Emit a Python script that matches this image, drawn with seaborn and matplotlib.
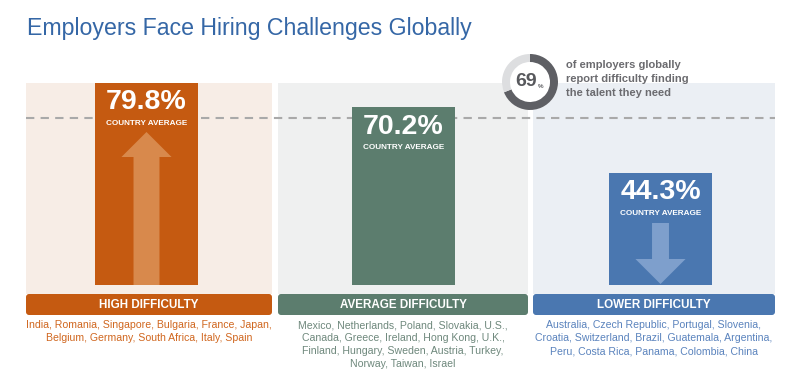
import numpy as np
import matplotlib
matplotlib.use("Agg")
import matplotlib.pyplot as plt
import matplotlib.patches as mpatches
import seaborn as sns
import pandas as pd

# data
groups = ["HIGH DIFFICULTY", "AVERAGE DIFFICULTY", "LOWER DIFFICULTY"]
country_avg = [79.8, 70.2, 44.3]
global_share = 69
countries = [
    ["India, Romania, Singapore, Bulgaria, France, Japan,",
     "Belgium, Germany, South Africa, Italy, Spain"],
    ["Mexico, Netherlands, Poland, Slovakia, U.S.,",
     "Canada, Greece, Ireland, Hong Kong, U.K.,",
     "Finland, Hungary, Sweden, Austria, Turkey,",
     "Norway, Taiwan, Israel"],
    ["Australia, Czech Republic, Portugal, Slovenia,",
     "Croatia, Switzerland, Brazil, Guatemala, Argentina,",
     "Peru, Costa Rica, Panama, Colombia, China"],
]

bar_colors = ["#C55A11", "#5C7D6E", "#4A77B0"]
panel_colors = ["#F7EDE6", "#EFF0F0", "#EBEFF4"]
text_colors = ["#D0661E", "#6E887C", "#5A83BD"]
arrow_colors = ["#D8894C", None, "#7E9FCC"]

# layout (pixels of the 810x384 canvas)
W, H = 810, 384
BASE_PX = 285          # pixel row of the 0% baseline
PX_PER_PCT = 2.53
SLOT_PX = 257          # distance between bar centres
FIRST_PX = 146.5       # centre of the first bar
panel_px = [(26, 272), (278, 528), (533, 775)]


def to_x(px):
    return (px - FIRST_PX) / SLOT_PX


def to_y(py):
    return (BASE_PX - py) / PX_PER_PCT


sns.set_style("white")
plt.rcParams["font.family"] = ["Liberation Sans", "DejaVu Sans"]

fig = plt.figure(figsize=(W / 100, H / 100), dpi=100)
ax = fig.add_axes([0, 0, 1, 1])

# background panels and the label boxes under them
for i, (x0, x1) in enumerate(panel_px):
    ax.add_patch(mpatches.Rectangle((to_x(x0), to_y(294)), to_x(x1) - to_x(x0),
                                    to_y(83) - to_y(294), fc=panel_colors[i],
                                    ec="none", zorder=0))
    ax.add_patch(mpatches.FancyBboxPatch(
        (to_x(x0), to_y(315)), to_x(x1) - to_x(x0), to_y(294) - to_y(315),
        boxstyle="round,pad=0,rounding_size=0.012",
        mutation_aspect=SLOT_PX / PX_PER_PCT,
        fc=bar_colors[i], ec="none", zorder=2))
    xc = to_x((x0 + x1) / 2)
    ax.text(xc, to_y(304.5), groups[i], ha="center", va="center",
            color="white", fontsize=8.4, fontweight="bold", zorder=3)
    for j, line in enumerate(countries[i]):
        ax.text(xc, to_y(325.5 + 12.8 * j), line, ha="center", va="center",
                color=text_colors[i], fontsize=7.6, zorder=3)

# dashed reference line
ax.plot([to_x(26), to_x(775)], [to_y(118), to_y(118)], color="#A9A9A9",
        lw=1.5, dashes=(4, 3), zorder=1)

df = pd.DataFrame({"group": groups, "avg": country_avg})
sns.barplot(data=df, x="group", y="avg", hue="group", palette=bar_colors,
            saturation=1, width=0.40, linewidth=0, legend=False, ax=ax,
            zorder=2)

# arrows inside the bars
ax.arrow(0, 0, 0, to_y(132), width=0.101, head_width=0.195,
         head_length=to_y(132) - to_y(157), length_includes_head=True,
         fc=arrow_colors[0], ec="none", zorder=3)
ax.arrow(2, to_y(223), 0, to_y(284) - to_y(223), width=0.066, head_width=0.195,
         head_length=to_y(259) - to_y(284), length_includes_head=True,
         fc=arrow_colors[2], ec="none", zorder=3)

for i, v in enumerate(country_avg):
    ax.text(i, v - 7.6, f"{v:.1f}%", ha="center", va="center", color="white",
            fontsize=20.5, fontweight="bold", zorder=4)
    ax.text(i, v - 15.9, "COUNTRY AVERAGE", ha="center", va="center",
            color="white", fontsize=5.9, fontweight="bold", zorder=4)

ax.set_xlim(to_x(0), to_x(W))
ax.set_ylim(to_y(H), to_y(0))
ax.axis("off")

# title
ax.text(to_x(27), to_y(28.5), "Employers Face Hiring Challenges Globally",
        ha="left", va="center", color="#3567A6", fontsize=16.7)

# donut with global share
dax = fig.add_axes([500 / W, (H - 112) / H, 60 / W, 60 / H])
dax.add_patch(mpatches.Circle((0, 0), 1.0, fc="white", ec="none", zorder=0))
dax.pie([global_share, 100 - global_share], colors=["#5E5F64", "#DDDEE0"],
        startangle=90, counterclock=False,
        wedgeprops=dict(width=8 / 28, linewidth=0))
dax.set_xlim(-30 / 28, 30 / 28)
dax.set_ylim(-30 / 28, 30 / 28)
dax.axis("off")

fig.text(526 / W, 1 - 82 / H, str(global_share), ha="center", va="center",
         color="#58595D", fontsize=14, fontweight="bold")
fig.text(538 / W, 1 - 86 / H, "%", ha="left", va="center",
         color="#58595D", fontsize=4.5, fontweight="bold")

note = ["of employers globally", "report difficulty finding",
        "the talent they need"]
for j, line in enumerate(note):
    fig.text(566 / W, 1 - (65.5 + 13.5 * j) / H, line, ha="left", va="center",
             color="#6B6B6F", fontsize=8, fontweight="bold")

fig.savefig("out.png", dpi=100)
